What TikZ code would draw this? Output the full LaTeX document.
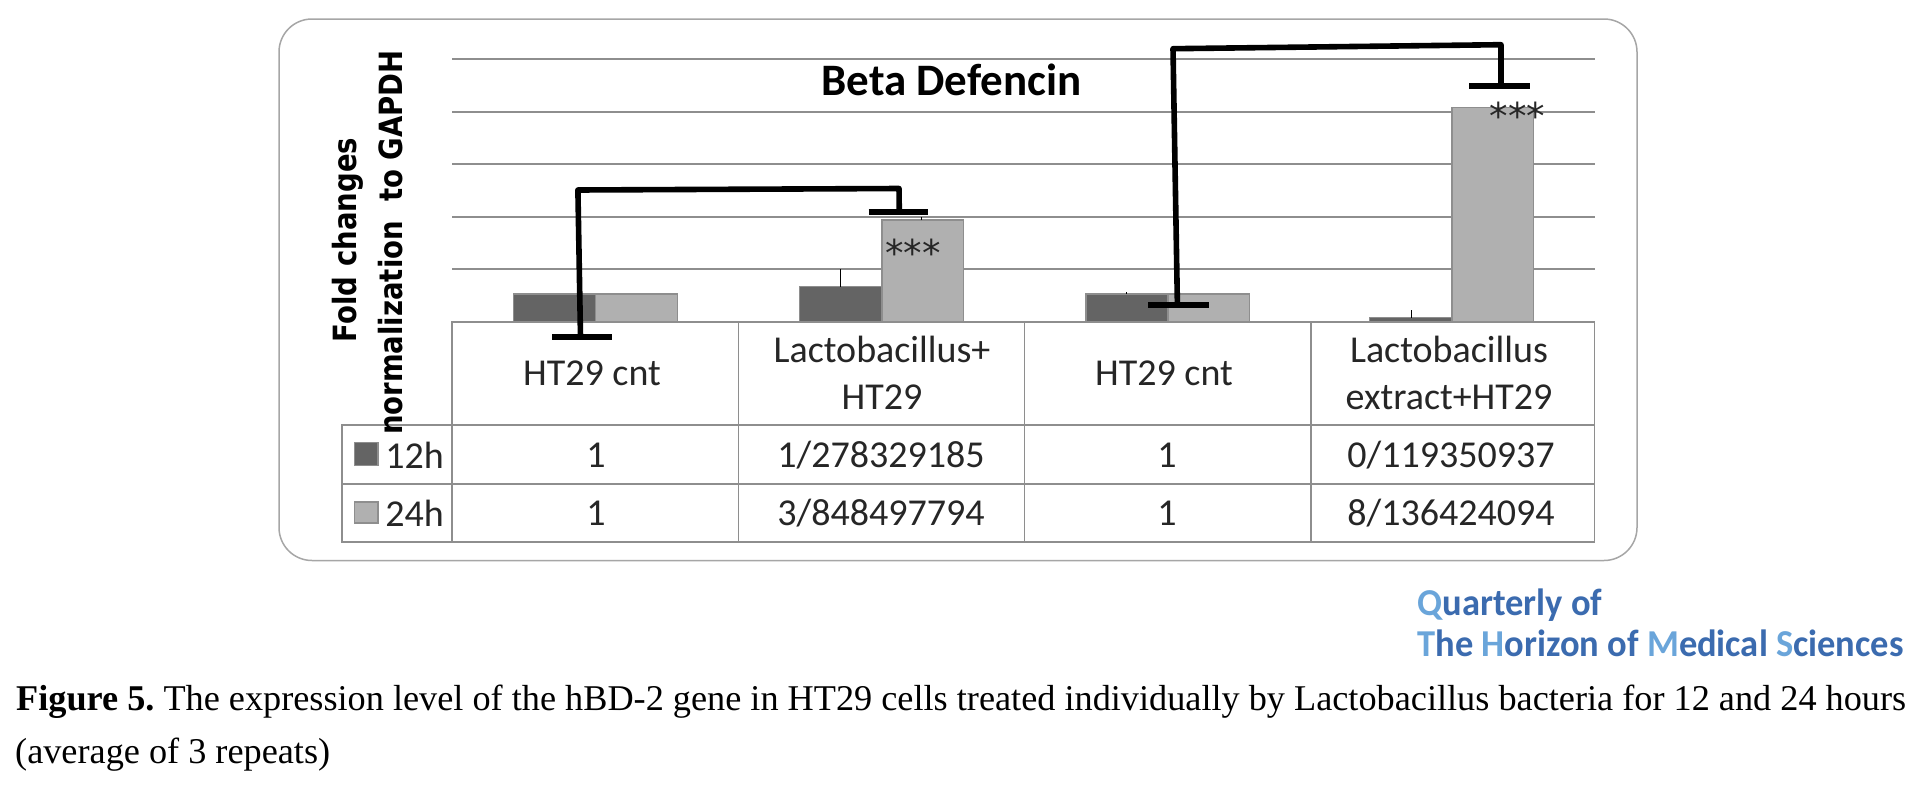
\documentclass[tikz,border=0pt]{standalone}
\usepackage{fontspec}
\setmainfont{Liberation Serif}
\newfontfamily\calib{Carlito}
\newfontfamily\vlabel{DejaVu Sans}
\definecolor{darkbar}{HTML}{646464}
\definecolor{lightbar}{HTML}{B0B0B0}
\definecolor{rulegray}{HTML}{8E8E8E}
\definecolor{framegray}{HTML}{A6A6A6}
\definecolor{logolight}{HTML}{6AA5DA}
\definecolor{logodark}{HTML}{3B6BAF}
\newcommand{\LL}[1]{\textcolor{logolight}{#1}}
\tikzset{
  gridline/.style={draw=rulegray,line width=1.4pt},
  tableline/.style={draw=rulegray,line width=1.4pt},
  bardark/.style={draw=rulegray,line width=1.2pt,fill=darkbar},
  barlight/.style={draw=rulegray,line width=1.2pt,fill=lightbar},
  errbar/.style={draw=black,line width=1pt},
  bracket/.style={draw=black,line width=5.6pt,line join=round},
  tbar/.style={draw=black,line width=6pt},
  celltext/.style={font=\calib\fontsize{38}{47}\selectfont,align=center,inner sep=0pt,text=black!85},
  startext/.style={font=\vlabel\fontsize{37}{37}\selectfont,inner sep=0pt,text=black!85},
  logotext/.style={font=\calib\bfseries\fontsize{38}{38}\selectfont,inner sep=0pt,anchor=base west,text=logodark},
  captext/.style={font=\fontsize{36.25}{36.25}\selectfont,inner sep=0pt,anchor=base west,text=black},
}
\begin{document}
\begin{tikzpicture}[x=1pt,y=-1pt]
\useasboundingbox (0,0) rectangle (1914,790);
\fill[white] (0,0) rectangle (1914,790);
% frame
\draw[draw=framegray,line width=1.5pt,rounded corners=33pt] (279,19) rectangle (1637,560.5);
% gridlines
\foreach \yy in {59,112,164,217,269}{\draw[gridline] (452,\yy) -- (1595,\yy);}
% bars
\draw[bardark] (513.6,294) rectangle (595.7,322);
\draw[barlight] (595.7,294) rectangle (677.4,322);
\draw[bardark] (799.3,286.7) rectangle (881.9,322);
\draw[barlight] (881.9,220) rectangle (963.6,322);
\draw[bardark] (1085.9,294) rectangle (1168,322);
\draw[barlight] (1168,294) rectangle (1249.3,322);
\draw[bardark] (1369.8,317.7) rectangle (1452,322);
\draw[barlight] (1452,107.7) rectangle (1533.7,322);
% error bars
\draw[errbar] (840,286.7) -- (840,268.7);
\draw[errbar] (921.6,220) -- (921.6,217);
\draw[errbar] (1126,294) -- (1126,292);
\draw[errbar] (1411.8,317.7) -- (1411.8,310);
% table
\draw[tableline] (452,322) rectangle (1594.5,542);
\draw[tableline] (342,425) rectangle (452,542);
\draw[tableline] (342,425) -- (1594.5,425);
\draw[tableline] (342,484) -- (1594.5,484);
\foreach \xx in {738.6,1024.5,1311}{\draw[tableline] (\xx,322) -- (\xx,542);}
% table text
\node[celltext] (h1) at (592,373) {HT29 cnt};
\node[celltext] (h2) at (882,372.5) {Lactobacillus+\\HT29};
\node[celltext] (h3) at (1164,373) {HT29 cnt};
\node[celltext] (h4) at (1449,372.5) {Lactobacillus\\extract+HT29};
\node[celltext] (a1) at (596,455) {1};
\node[celltext] (a2) at (881,455) {1/278329185};
\node[celltext] (a3) at (1167,455) {1};
\node[celltext] (a4) at (1451,455) {0/119350937};
\node[celltext] (b1) at (596,513) {1};
\node[celltext] (b2) at (881,513) {3/848497794};
\node[celltext] (b3) at (1167,513) {1};
\node[celltext] (b4) at (1451,513) {8/136424094};
% legend
\draw[bardark] (354.6,442.3) rectangle (377.9,465.7);
\draw[barlight] (354.6,502) rectangle (377.9,523);
\node[celltext] (l1) at (414.5,455) {12h};
\node[celltext] (l2) at (414.5,513) {24h};
% title, axis label
\node[inner sep=0pt,font=\calib\bfseries\fontsize{45}{45}\selectfont] (title) at (951.5,80) {Beta Defencin};
\node[rotate=90,anchor=base,inner sep=0pt,font=\vlabel\bfseries\fontsize{32}{32}\selectfont] (yl1) at (356,240) {\scalebox{0.86}[1]{Fold changes}};
\node[rotate=90,anchor=base,inner sep=0pt,font=\vlabel\bfseries\fontsize{32}{32}\selectfont] (yl2) at (402,242.5) {\scalebox{0.86}[1]{normalization\ \ to GAPDH}};
% significance brackets
\coordinate (p1) at (580.5,337);
\coordinate (p2) at (577.9,190);
\coordinate (p3) at (899,188.5);
\coordinate (p4) at (899.3,212);
\coordinate (p5) at (552.4,337);
\coordinate (p6) at (611.8,337);
\coordinate (p7) at (868.5,212);
\coordinate (p8) at (927.9,212);
\draw[bracket] (p1) -- (p2) -- (p3) -- (p4);
\draw[tbar] (p5) -- (p6);
\draw[tbar] (p7) -- (p8);
\coordinate (q1) at (1177.4,305);
\coordinate (q2) at (1173,48.7);
\coordinate (q3) at (1501,44.7);
\coordinate (q4) at (1501,86);
\coordinate (q5) at (1148.4,305);
\coordinate (q6) at (1208.7,305);
\coordinate (q7) at (1469,86.3);
\coordinate (q8) at (1529.6,86.3);
\draw[bracket] (q1) -- (q2) -- (q3) -- (q4);
\draw[tbar] (q5) -- (q6);
\draw[tbar] (q7) -- (q8);
\node[startext] (s1) at (913,253) {***};
\node[startext] (s2) at (1517.5,116) {***};
% logo
\node[logotext] (logo1) at (1417.4,615) {\scalebox{0.96}[1]{\LL{Q}uarterly of}};
\node[logotext] (logo2) at (1417.4,656) {\scalebox{0.96}[1]{\LL{T}he \LL{H}orizon of \LL{M}edical \LL{S}ciences}};
% caption
\node[captext] (cap1) at (16,710) {\textbf{Figure 5.}\hspace{-3pt} The expression level of the hBD-2 gene in HT29 cells treated individually by Lactobacillus bacteria for 12 and 24 hours};
\node[captext] (cap2) at (15,763) {(average of 3 repeats)};
\end{tikzpicture}
\end{document}
